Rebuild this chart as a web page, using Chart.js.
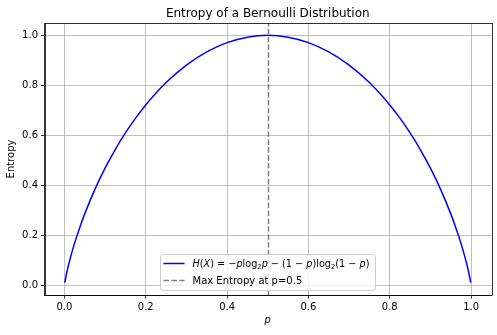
<!DOCTYPE html>
<html>
<head>
<meta charset="utf-8">
<script src="https://cdn.jsdelivr.net/npm/chart.js@4/dist/chart.umd.min.js"></script>
<style>
  html, body { margin: 0; padding: 0; background: #fff; }
  #wrap { width: 497px; height: 335px; position: relative; }
</style>
</head>
<body>
<div id="wrap"><canvas id="c" width="497" height="335"></canvas></div>
<script>
// Probability of success p and the entropy H(p) in bits
const probabilities = [
  0.001, 0.005, 0.01, 0.02, 0.03, 0.04, 0.05, 0.075, 0.1, 0.125, 0.15, 0.175,
  0.2, 0.25, 0.3, 0.35, 0.4, 0.45, 0.5,
  0.55, 0.6, 0.65, 0.7, 0.75, 0.8, 0.825, 0.85, 0.875, 0.9, 0.925, 0.95,
  0.96, 0.97, 0.98, 0.99, 0.995, 0.999
];
const entropyValues = [
  0.0114, 0.0454, 0.0808, 0.1414, 0.1944, 0.2423, 0.2864, 0.3843, 0.4690, 0.5436, 0.6098, 0.6690,
  0.7219, 0.8113, 0.8813, 0.9341, 0.9710, 0.9928, 1.0000,
  0.9928, 0.9710, 0.9341, 0.8813, 0.8113, 0.7219, 0.6690, 0.6098, 0.5436, 0.4690, 0.3843, 0.2864,
  0.2423, 0.1944, 0.1414, 0.0808, 0.0454, 0.0114
];
const xTickValues = [0.0, 0.2, 0.4, 0.6, 0.8, 1.0];
const yTickValues = [0.0, 0.2, 0.4, 0.6, 0.8, 1.0];
const maxEntropyP = 0.5;

const chartTitle = 'Entropy of a Bernoulli Distribution';
const xAxisLabel = 'p';
const yAxisLabel = 'Entropy';
const maxEntropyLabel = 'Max Entropy at p=0.5';

const FONT = '"DejaVu Sans", sans-serif';
const TEXT = '#000';

// Segments of the legend formula: [text, style]  (n = upright, i = italic, s = subscript)
const formulaParts = [
  ['H','i'],['(','n'],['X','i'],[')','n'],[' = \u2212','n'],['p','i'],['log','n'],['2','s'],['p','i'],
  [' \u2212 (1 \u2212 ','n'],['p','i'],[')log','n'],['2','s'],['(1 \u2212 ','n'],['p','i'],[')','n']
];
const formulaWidth = 177;

const points = probabilities.map((p, i) => ({ x: p, y: entropyValues[i] }));

function fixedTicks(values) {
  return function (scale) {
    scale.ticks = values.map(v => ({ value: v }));
  };
}

function setPartFont(ctx, s) {
  if (s === 'i') ctx.font = 'italic 10px ' + FONT;
  else if (s === 's') ctx.font = '7px ' + FONT;
  else ctx.font = '10px ' + FONT;
}

const decorations = {
  id: 'decorations',
  afterDatasetsDraw(chart) {
    const { ctx, chartArea: a, scales } = chart;
    // vertical dashed line at the maximum
    const xp = Math.round(scales.x.getPixelForValue(maxEntropyP)) + 0.5;
    ctx.save();
    ctx.strokeStyle = '#808080';
    ctx.lineWidth = 1.5;
    ctx.setLineDash([5.5, 2.4]);
    ctx.beginPath();
    ctx.moveTo(xp, a.bottom);
    ctx.lineTo(xp, a.top);
    ctx.stroke();
    ctx.restore();
  },
  afterDraw(chart) {
    const { ctx, chartArea: a } = chart;
    ctx.save();
    // frame around the axes
    ctx.strokeStyle = '#000';
    ctx.lineWidth = 0.8;
    ctx.strokeRect(Math.round(a.left) + 0.5, Math.round(a.top) + 0.5,
      Math.round(a.right - a.left), Math.round(a.bottom - a.top));

    // title
    ctx.fillStyle = TEXT;
    ctx.font = '12px ' + FONT;
    ctx.textAlign = 'center';
    ctx.textBaseline = 'alphabetic';
    ctx.fillText(chartTitle, (a.left + a.right) / 2, 17);

    // axis labels
    ctx.font = 'italic 10px ' + FONT;
    ctx.textBaseline = 'middle';
    ctx.fillText(xAxisLabel, (a.left + a.right) / 2, 320);
    ctx.font = '10px ' + FONT;
    ctx.translate(11, (a.top + a.bottom) / 2);
    ctx.rotate(-Math.PI / 2);
    ctx.fillText(yAxisLabel, 0, 0);
    ctx.restore();

    // legend
    ctx.save();
    const lx = 160.5, ly = 254.5, lw = 215, lh = 36, r = 2.5;
    ctx.fillStyle = 'rgba(255,255,255,0.8)';
    ctx.strokeStyle = '#cccccc';
    ctx.lineWidth = 1;
    ctx.beginPath();
    ctx.moveTo(lx + r, ly);
    ctx.arcTo(lx + lw, ly, lx + lw, ly + lh, r);
    ctx.arcTo(lx + lw, ly + lh, lx, ly + lh, r);
    ctx.arcTo(lx, ly + lh, lx, ly, r);
    ctx.arcTo(lx, ly, lx + lw, ly, r);
    ctx.closePath();
    ctx.fill();
    ctx.stroke();

    const row1 = 263.5, row2 = 280.5, hx0 = 163.5, hx1 = 184.5, tx = 192.5;
    ctx.lineWidth = 1.5;
    ctx.strokeStyle = '#0000ff';
    ctx.beginPath(); ctx.moveTo(hx0, row1); ctx.lineTo(hx1, row1); ctx.stroke();
    ctx.strokeStyle = '#808080';
    ctx.setLineDash([5.5, 2.4]);
    ctx.beginPath(); ctx.moveTo(hx0, row2); ctx.lineTo(hx1, row2); ctx.stroke();
    ctx.setLineDash([]);

    ctx.fillStyle = TEXT;
    ctx.textAlign = 'left';
    ctx.textBaseline = 'alphabetic';
    // measure the formula, then squeeze it horizontally to its set width
    let total = 0;
    formulaParts.forEach(([t, s]) => { setPartFont(ctx, s); total += ctx.measureText(t).width; });
    const k = Math.min(1, formulaWidth / total);
    const base1 = row1 + 3.6;
    ctx.save();
    ctx.translate(tx, 0);
    ctx.scale(k, 1);
    let x = 0;
    formulaParts.forEach(([t, s]) => {
      setPartFont(ctx, s);
      ctx.fillText(t, x, s === 's' ? base1 + 2 : base1);
      x += ctx.measureText(t).width;
    });
    ctx.restore();
    ctx.font = '10px ' + FONT;
    ctx.fillText(maxEntropyLabel, tx, row2 + 3.6);
    ctx.restore();
  }
};

new Chart(document.getElementById('c'), {
  type: 'line',
  data: {
    datasets: [{
      label: 'H(X)',
      data: points,
      borderColor: '#0000ff',
      borderWidth: 1.5,
      pointRadius: 0,
      fill: false,
      cubicInterpolationMode: 'monotone'
    }]
  },
  options: {
    responsive: false,
    animation: false,
    devicePixelRatio: 1,
    layout: { padding: { top: 23, right: 6, bottom: 0, left: 0 } },
    plugins: { legend: { display: false }, title: { display: false }, tooltip: { enabled: false } },
    scales: {
      x: {
        type: 'linear',
        min: -0.0489,
        max: 1.0489,
        afterBuildTicks: fixedTicks(xTickValues),
        afterFit(scale) { scale.height = 40; },
        grid: { color: '#b0b0b0', lineWidth: 0.8, tickColor: '#000', tickLength: 3.5, tickWidth: 0.8 },
        border: { display: true, color: '#000', width: 0.8 },
        ticks: {
          padding: 3,
          color: TEXT,
          font: { family: FONT, size: 10 },
          maxRotation: 0,
          callback: v => Number(v).toFixed(1)
        }
      },
      y: {
        type: 'linear',
        min: -0.0380,
        max: 1.0494,
        afterBuildTicks: fixedTicks(yTickValues),
        afterFit(scale) { scale.width = 44.5; },
        grid: { color: '#b0b0b0', lineWidth: 0.8, tickColor: '#000', tickLength: 3.5, tickWidth: 0.8 },
        border: { display: true, color: '#000', width: 0.8 },
        ticks: {
          padding: 3,
          color: TEXT,
          font: { family: FONT, size: 10 },
          callback: v => Number(v).toFixed(1)
        }
      }
    }
  },
  plugins: [decorations]
});
</script>
</body>
</html>
